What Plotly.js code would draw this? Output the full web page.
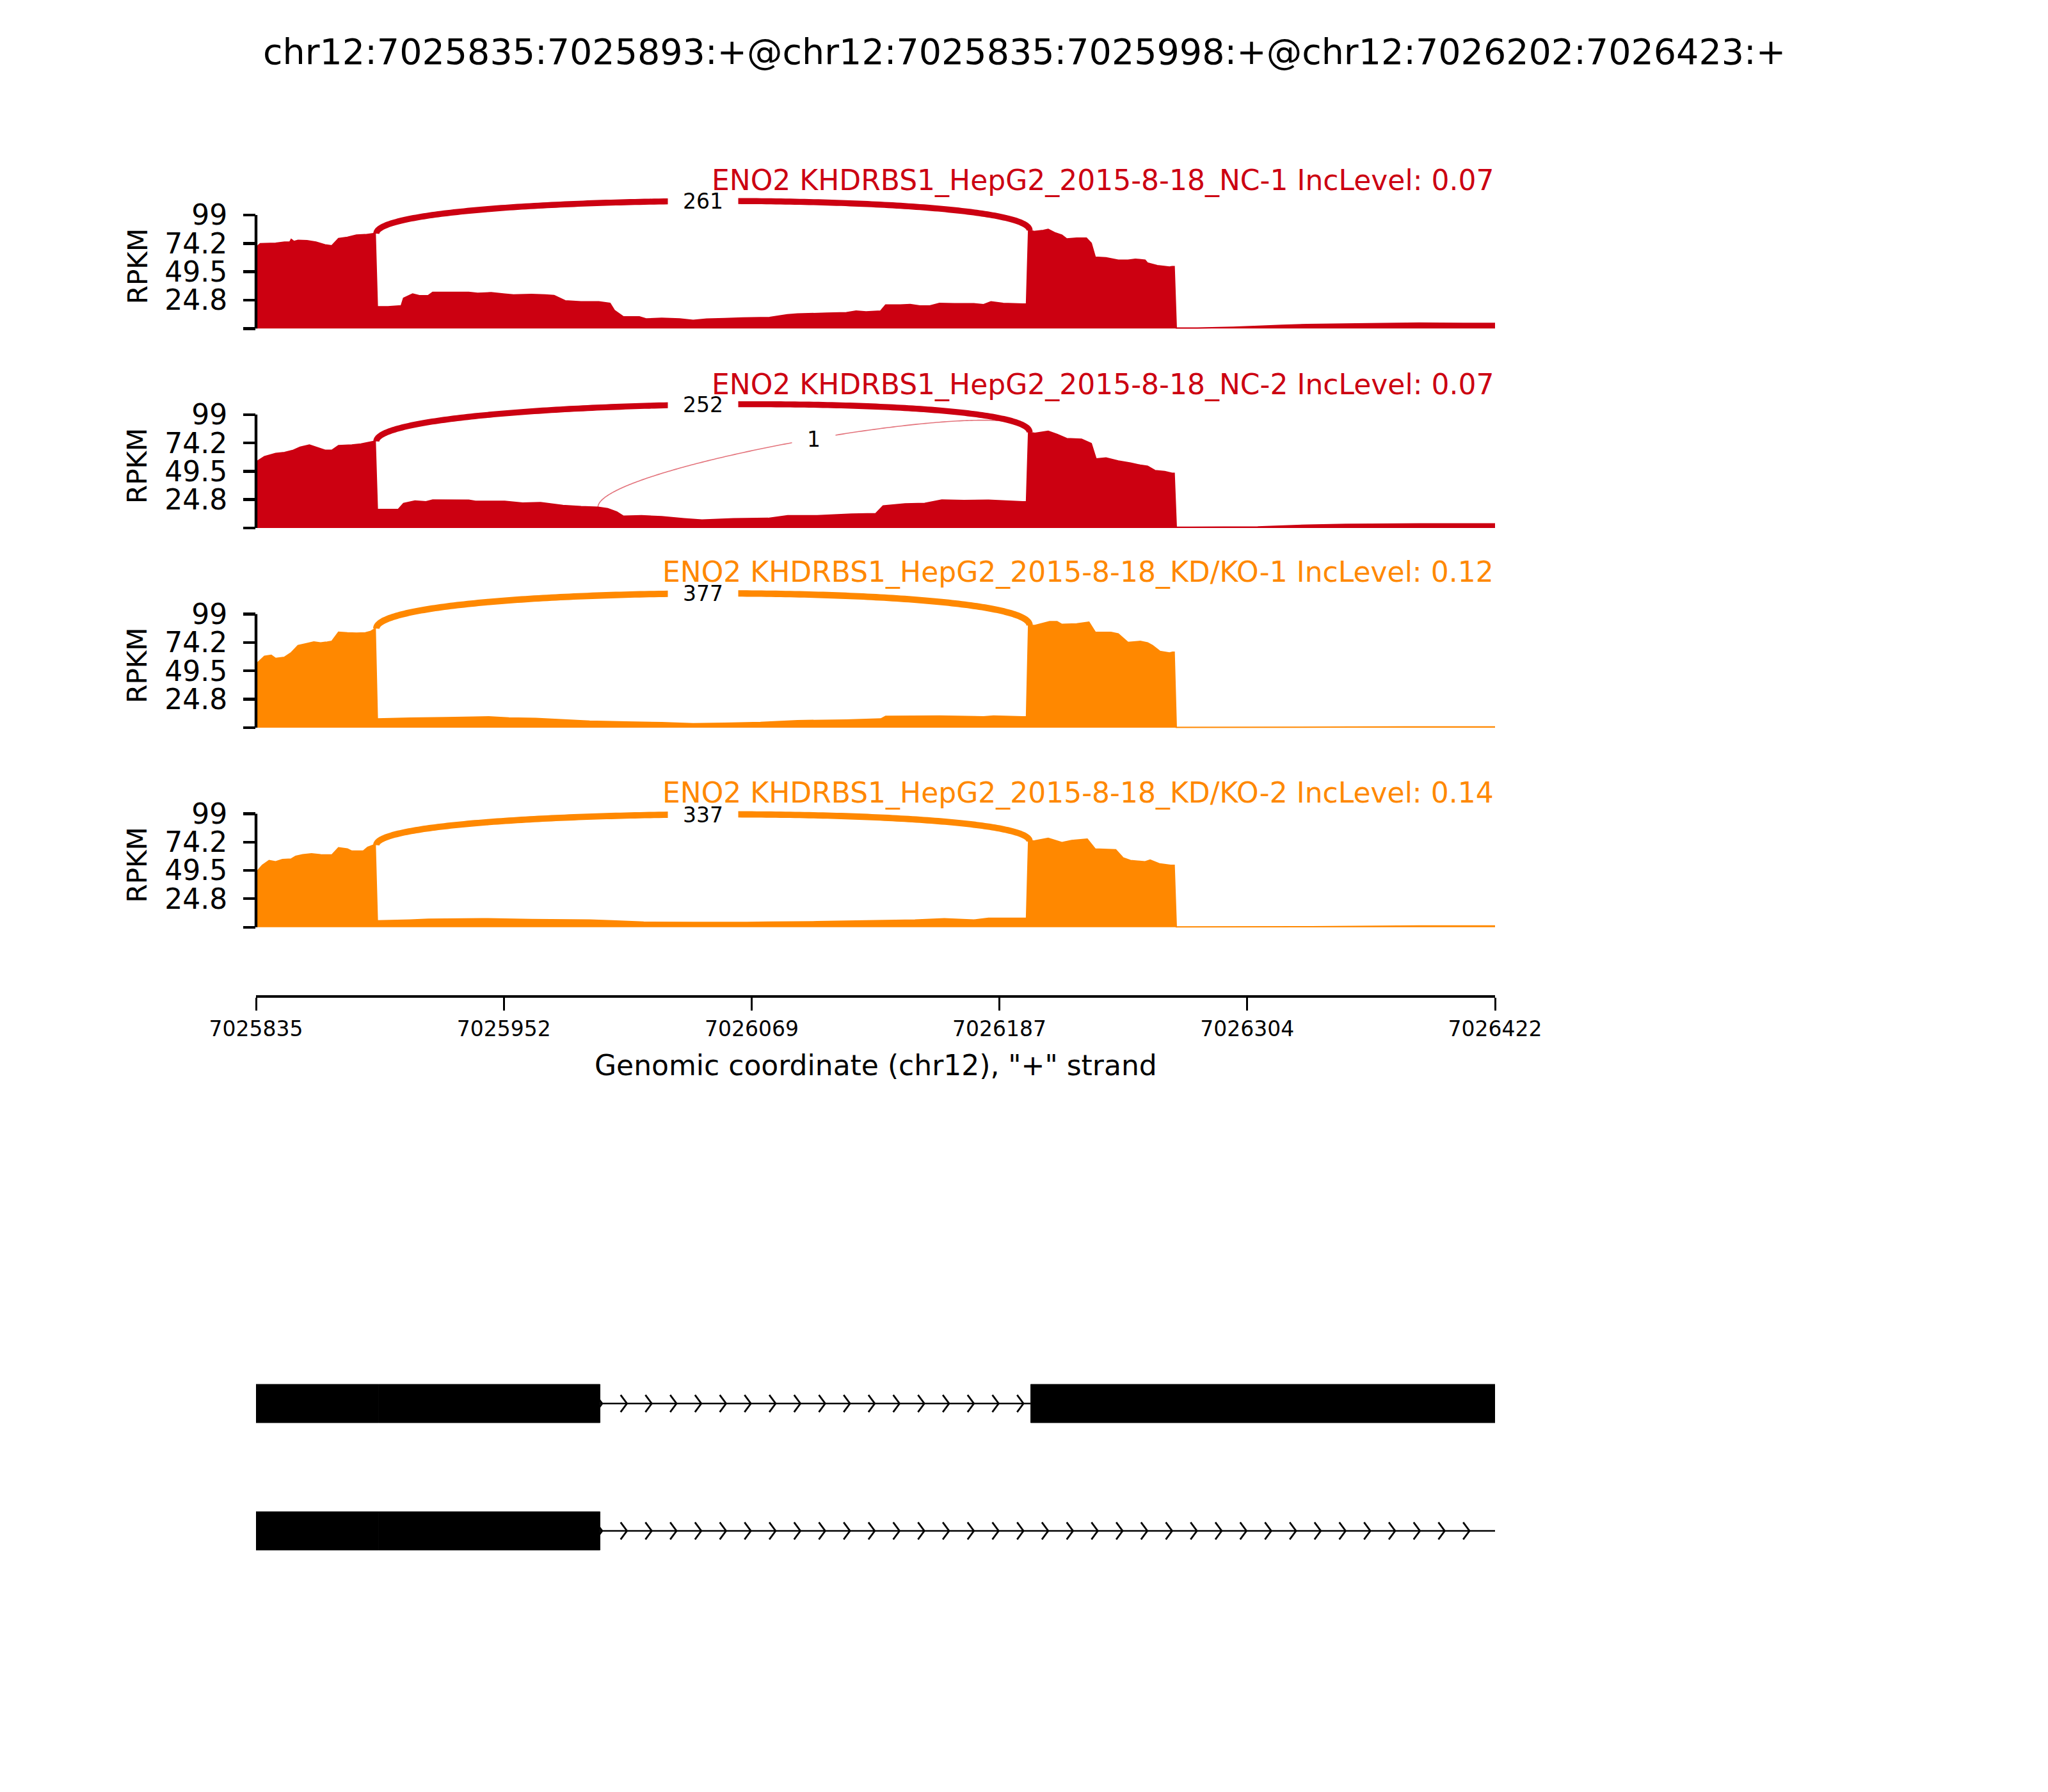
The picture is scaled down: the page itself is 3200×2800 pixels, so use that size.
<!DOCTYPE html>
<html><head><meta charset="utf-8">
<script src="https://cdn.plot.ly/plotly-3.0.1.min.js"></script>
<style>body{margin:0;background:#fff}</style>
</head><body><div id="chart" style="width:3200px;height:2800px"></div>
<script>
// ---------------- data ----------------
const eventTitle = 'chr12:7025835:7025893:+@chr12:7025835:7025998:+@chr12:7026202:7026423:+';
const geneName = 'ENO2';
const regionStart = 7025835;
const regionEnd = 7026422;
const xAxisLabel = 'Genomic coordinate (chr12), "+" strand';
const xTickVals = [7025835, 7025952.4, 7026069.8, 7026187.2, 7026304.6, 7026422];
const xTickText = ['7025835', '7025952', '7026069', '7026187', '7026304', '7026422'];
const yTickVals = [0, 24.8, 49.5, 74.2, 99];
const yTickText = ['', '24.8', '49.5', '74.2', '99'];

const sampleLabels = ['KHDRBS1_HepG2_2015-8-18_NC-1', 'KHDRBS1_HepG2_2015-8-18_NC-2',
                      'KHDRBS1_HepG2_2015-8-18_KD/KO-1', 'KHDRBS1_HepG2_2015-8-18_KD/KO-2'];
const incLevels = ['0.07', '0.07', '0.12', '0.14'];
const sampleColors = ['#CC0011', '#CC0011', '#FF8800', '#FF8800'];

// coverage (offset in bp from regionStart, RPKM)
const cov1Offset = [0,2,9.3,13.5,16,16.7,18,19.9,24.2,28.4,32.7,35.9,39.1,43.3,47.6,51.8,55.6,56.5,57.5,62.5,68.8,69.9,74.2,77.4,81.6,83.7,94.4,100.8,105,111.4,117.8,122,130.5,136.9,141.2,146.5,154,162.4,167.7,169.8,174.1,181.6,184.8,192.2,200.7,207.1,213.5,222,230.5,243.3,251.7,256.5,270.4,279.7,284.3,289,295.9,298.3,305.2,309.9,314.5,319.2,323.8,330.8,340.1,344.7,348.2,354,363.2,365,366,369,373,375.3,378.3,381.8,384.1,388.8,393.4,395.7,397.6,402.7,408.5,413.1,416.6,421.2,422.4,427,432.8,434,435,436,446,463,486,498,521,551,572,587];
const cov1Rpkm   = [70.7,74,74.4,75.4,75.4,77.8,76,77,76.7,75.4,73,72.2,78.5,79.6,81.5,81.9,82.8,82.8,19,19,19.9,26.4,30.1,28.7,28.7,31.6,31.6,31.6,30.7,31.3,30.1,29.4,29.8,29.4,28.8,24.2,23.3,23.3,22,15.8,10.2,10.2,8.4,8.9,8.4,7.1,8.2,8.7,9.3,9.7,12.1,12.7,13.4,13.8,15.3,14.5,15.3,20.5,20.5,21,19.7,19.7,22,21.6,21.6,20.8,23.3,22,21.4,21.4,85.6,84.7,85.6,86.5,83.7,81.5,78.2,78.9,78.9,74.4,62.3,61.8,59.6,59.6,60.5,59.6,57.1,54.9,53.6,54,54,0.4,0.4,1.1,2.8,3.5,4.1,4.8,4.5,4.5];

const cov2Offset = [0,0.8,4,9.3,13.5,17.7,20.9,25.3,28.4,32.7,35.9,39.1,45.4,49.7,55.6,56.5,57.5,67.4,69.9,75.3,80.5,83.7,100.8,104,117.8,126.3,134.8,145.4,154,162,166.6,170.9,174.1,182.6,192.2,202.8,211.3,226.2,242.6,251.9,265.8,282,293.6,297.1,307.5,316.8,324.9,335.4,347,363.2,365,366,369,375.3,379.5,384.1,391.1,395.7,398,402.7,408.5,414.3,418.9,422.4,425.9,430.5,434,435,436,442.2,474.6,497.8,516.4,551.2,587];
const cov2Rpkm   = [56,58.6,62.3,65.1,66,67.9,70.6,72.5,70.6,67.9,67.9,71.9,72.5,73.4,75.6,75.6,16.3,16.3,21.5,23.7,23,24.5,24.3,23.4,23.4,21.9,22.2,19.7,18.7,18.2,16.9,14.1,10.4,10.8,10,8.2,7,8.2,8.5,10.8,10.8,12.2,12.6,19.3,21.1,21.5,24.5,24.1,24.3,23,23,83.6,82.7,84.5,81.8,78.1,77.5,73.8,60.4,61.2,58.6,56.7,54.9,54,50.2,49.3,47.8,47.8,0.7,0.7,1.1,2.6,3.3,3.7,3.7];

const cov3Offset = [0,0.8,4,7.2,9.3,13.5,16.7,19.9,24.2,27.4,30.6,33.7,35.9,39.1,43.3,47.6,51.8,54.4,56.5,57.5,73.1,90,102.8,110.3,119.8,132.6,147.5,158.1,175.1,192.2,207.1,222,239,256.5,279.7,296,298.3,323.8,344.7,349.4,363.2,365,366,369,376,379.5,381.8,388.8,394.6,397.6,405,408.5,413.1,418.9,422.4,424.7,428.2,432.8,434.2,435,436,544,587];
const cov3Rpkm   = [54,56.7,62.3,63.2,60.4,61.4,65.4,71.6,73.4,74.7,74,74.7,75.3,83.2,82.7,82.5,82.7,84,86.4,7.6,8.3,8.7,9.1,9.5,8.5,8,6.7,5.7,5,4.4,3.5,3.9,4.6,6.1,6.7,7.6,9.8,10.2,9.5,10.2,9.5,9.5,89.2,89.2,92.5,92.5,90.1,90.5,92,83.2,83.2,81.8,74.3,75.3,74,71.6,66.6,65.1,65.8,65.8,0.2,0.6,0.6];

const cov4Offset = [0,0.8,3,6.2,9.3,12.5,16.7,18.8,22.1,26.3,30.6,35.9,39.1,43.3,45.4,50.8,52.9,55.6,56.5,57.5,73.1,81.6,107.1,130.5,158.1,168.8,183.7,207.1,232.6,242.6,265.8,289,312.2,326.1,340.1,347,363.2,365,366,369,375.3,381.8,386.4,393.8,397.6,407.3,410.8,414.3,421.2,423.6,428.2,433.3,435,436,500,521,551,587];
const cov4Rpkm   = [47,49.3,54,58.2,57.1,59,59.5,61.9,63.2,64.1,63.2,63,69.3,68.2,66.4,66.4,69.7,71.6,71.6,5.6,6.3,7,7.4,6.7,6.3,5.6,4.4,4.1,4.1,4.4,4.8,5.6,6.3,7.4,6.3,7.8,7.8,7.8,74.9,75.3,77.5,73.8,75.6,76.8,68.2,67.5,60.4,58.2,57.1,58.6,55.2,54,54,0.2,0.4,0.7,1.1,1.1];

const covOffsets = [cov1Offset, cov2Offset, cov3Offset, cov4Offset];
const covValues  = [cov1Rpkm, cov2Rpkm, cov3Rpkm, cov4Rpkm];

// junctions
const juncSample      = [0, 1, 1, 2, 3];
const juncLeft        = [7025892, 7025892, 7025997, 7025892, 7025892];
const juncRight       = [7026201.5, 7026201.5, 7026201.5, 7026201.5, 7026201.5];
const juncCount       = [261, 252, 1, 377, 337];
const juncLeftHeight  = [82.8, 75.6, 18.2, 86.4, 71.6];
const juncRightHeight = [85.6, 83.6, 83.6, 89.2, 74.9];
const juncLift        = [36, 37.5, 36, 39, 33.5];

// gene model
const transcriptExons = [
  [[7025835, 7025893], [7025893, 7025998], [7026202, 7026423]],
  [[7025835, 7025893], [7025893, 7025998]]
];
const transcriptIntrons = [
  [[7025998, 7026202]],
  [[7025998, 7026423]]
];

// ---------------- layout helpers ----------------
const W = 3200, H = 2800;
const xDom = [400 / W, 2336 / W];
const pxPerUnit = 177.3 / 99;
const zeroPx = [513.3, 825.1, 1136.9, 1448.7];
const yRange = [-3, 128];
const titleBaseline = [297, 616, 909, 1254];
const py = v => 1 - v / H;

const traces = [];
const shapes = [];
const annotations = [];
const layout = {
  width: W, height: H,
  margin: {l: 0, r: 0, t: 0, b: 0, pad: 0},
  paper_bgcolor: 'white', plot_bgcolor: 'rgba(0,0,0,0)',
  showlegend: false,
  font: {family: 'DejaVu Sans', color: 'black'}
};

function ax(i) { return i === 0 ? '' : String(i + 1); }

for (let i = 0; i < 4; i++) {
  const k = ax(i);
  const Z = zeroPx[i];
  layout['xaxis' + k] = {domain: xDom, range: [regionStart, regionEnd], visible: false, anchor: 'y' + k, fixedrange: true};
  layout['yaxis' + k] = {
    domain: [py(Z - yRange[0] * pxPerUnit), py(Z - yRange[1] * pxPerUnit)],
    range: yRange, anchor: 'x' + k,
    showline: false, showgrid: false, zeroline: false,
    ticks: 'outside', ticklen: 19, tickwidth: 4.4, tickcolor: 'black',
    tickmode: 'array', tickvals: yTickVals, ticktext: yTickText,
    tickfont: {size: 44, family: 'DejaVu Sans', color: 'black'},
    ticklabelstandoff: 16
  };
  // coverage
  traces.push({
    type: 'scatter', mode: 'lines',
    x: covOffsets[i].map(o => regionStart + o), y: covValues[i],
    xaxis: 'x' + k, yaxis: 'y' + k,
    fill: 'tozeroy', fillcolor: sampleColors[i],
    line: {color: sampleColors[i], width: 2, simplify: false}, hoverinfo: 'skip'
  });
  // spine
  shapes.push({type: 'line', xref: 'paper', yref: 'y' + k, x0: xDom[0], x1: xDom[0], y0: 0, y1: 99,
               line: {color: 'black', width: 4.4}});
  // RPKM label
  annotations.push({text: 'RPKM', xref: 'paper', yref: 'paper', x: 215 / W, y: py(Z - 49.5 * pxPerUnit - 8.5),
                    xanchor: 'center', yanchor: 'middle', textangle: -90, showarrow: false,
                    font: {size: 42, family: 'DejaVu Sans', color: 'black'}});
}

// junction arcs
const bez = (p0, p1, p2, p3, t) => (1 - t) ** 3 * p0 + 3 * (1 - t) ** 2 * t * p1 + 3 * (1 - t) * t * t * p2 + t ** 3 * p3;
for (let j = 0; j < juncCount.length; j++) {
  const k = ax(juncSample[j]);
  const s = juncLeft[j], e = juncRight[j];
  const y1 = juncLeftHeight[j], y2 = juncRightHeight[j], h = juncLift[j];
  const xs = [], ys = [];
  for (let n = 0; n <= 200; n++) {
    const t = n / 200;
    xs.push(bez(s, s, e, e, t));
    ys.push(bez(y1, y1 + h, y2 + h, y2, t));
  }
  const lw = 3.9 * Math.log10(juncCount[j] + 1);
  const col = juncCount[j] > 1 ? sampleColors[juncSample[j]] : 'rgba(204,0,17,0.55)';
  traces.push({type: 'scatter', mode: 'lines', x: xs, y: ys, xaxis: 'x' + k, yaxis: 'y' + k,
               line: {color: col, width: Math.max(lw, 1.6), simplify: false}, hoverinfo: 'skip'});
  const lbl = String(juncCount[j]);
  annotations.push({text: lbl, xref: 'x' + k, yref: 'y' + k, x: bez(s, s, e, e, 0.5), y: bez(y1, y1 + h, y2 + h, y2, 0.5),
                    xanchor: 'center', yanchor: 'middle', showarrow: false, bgcolor: 'white',
                    width: 21 * lbl.length + 46, height: 38, borderpad: 0,
                    font: {size: 33, family: 'DejaVu Sans', color: 'black'}});
}

// panel titles
for (let i = 0; i < 4; i++) {
  annotations.push({text: geneName + ' ' + sampleLabels[i] + ' IncLevel: ' + incLevels[i],
                    xref: 'paper', yref: 'paper', x: xDom[1], y: py(titleBaseline[i] - 15.2),
                    xanchor: 'right', yanchor: 'middle', showarrow: false,
                    font: {size: 44, family: 'DejaVu Sans', color: sampleColors[i]}});
}

// main title and x label
annotations.push({text: eventTitle, xref: 'paper', yref: 'paper', x: 0.5, y: py(99.3 - 0.346 * 55.5),
                  xanchor: 'center', yanchor: 'middle', showarrow: false,
                  font: {size: 55.5, family: 'DejaVu Sans', color: 'black'}});
annotations.push({text: xAxisLabel, xref: 'paper', yref: 'paper', x: 0.5 * (xDom[0] + xDom[1]), y: py(1680 - 0.346 * 44),
                  xanchor: 'center', yanchor: 'middle', showarrow: false,
                  font: {size: 44, family: 'DejaVu Sans', color: 'black'}});

// bottom coordinate axis
layout.xaxis5 = {domain: xDom, range: [regionStart, regionEnd], anchor: 'y5', side: 'bottom',
                 showline: true, linewidth: 4.4, linecolor: 'black', showgrid: false, zeroline: false,
                 ticks: 'outside', ticklen: 20, tickwidth: 3, tickcolor: 'black',
                 tickmode: 'array', tickvals: xTickVals, ticktext: xTickText,
                 tickfont: {size: 33, family: 'DejaVu Sans', color: 'black'}, ticklabelstandoff: 0};
layout.yaxis5 = {domain: [py(1555), py(1500)], range: [0, 1], visible: false, anchor: 'x5'};
traces.push({type: 'scatter', mode: 'lines', x: [regionStart, regionEnd], y: [0.5, 0.5], xaxis: 'x5', yaxis: 'y5',
             line: {width: 0, color: 'rgba(0,0,0,0)'}, hoverinfo: 'skip'});

// gene model axes
const geneTop = 2093.5, geneBottom = 2491.5;
layout.xaxis6 = {domain: xDom, range: [regionStart, regionEnd], visible: false, anchor: 'y6'};
layout.yaxis6 = {domain: [py(geneBottom), py(geneTop)], range: [-0.5, 1.5], visible: false, anchor: 'x6'};
const boxHalf = 0.1508, chevHalf = 0.067;
const arrowSpacing = (regionEnd - regionStart) / 50;
const chevX = [], chevY = [];
for (let tI = 0; tI < transcriptExons.length; tI++) {
  const yc = 1 - tI;
  transcriptIntrons[tI].forEach(([a, b]) => {
    shapes.push({type: 'line', xref: 'x6', yref: 'y6', x0: a, x1: b, y0: yc, y1: yc, line: {color: 'black', width: 2.6}});
    for (let kk = 0; ; kk++) {
      const tip = a + kk * arrowSpacing + 1;
      if (tip > b - 2.5) break;
      chevX.push(tip - 3, tip, tip - 3, null);
      chevY.push(yc + chevHalf, yc, yc - chevHalf, null);
    }
  });
  transcriptExons[tI].forEach(([a, b]) => {
    shapes.push({type: 'rect', xref: 'x6', yref: 'y6', x0: a, x1: b, y0: yc - boxHalf, y1: yc + boxHalf,
                 fillcolor: 'black', line: {color: 'black', width: 0.8}, layer: 'above'});
  });
}
traces.push({type: 'scatter', mode: 'lines', x: chevX, y: chevY, xaxis: 'x6', yaxis: 'y6',
             line: {color: 'black', width: 2.8}, hoverinfo: 'skip', cliponaxis: false});

layout.shapes = shapes;
layout.annotations = annotations;
Plotly.newPlot('chart', traces, layout, {staticPlot: true, displayModeBar: false});
</script>
</body></html>
